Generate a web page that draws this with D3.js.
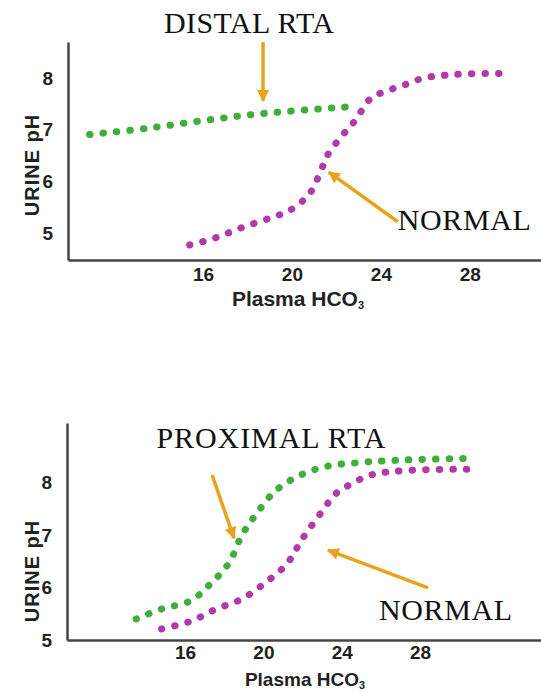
<!DOCTYPE html>
<html>
<head>
<meta charset="utf-8">
<script src="https://cdn.jsdelivr.net/npm/d3@7"></script>
<style>
  body { margin: 0; background: #fff; }
  svg { display: block; }
</style>
</head>
<body>
<div id="chart"></div>
<script>
// tick labels
var xTicks = [16, 20, 24, 28];
var yTicks = [5, 6, 7, 8];

// top chart: distal RTA vs normal
var distalHco3 = [10.9, 13.5, 16.2, 18.8, 22.4];
var distalPh   = [6.91, 7.03, 7.19, 7.32, 7.44];
var normalTopHco3 = [15.4, 16.5, 17.7, 19.0, 19.9, 20.8, 21.35, 21.6, 22.2, 22.75, 23.15, 23.55, 24.1, 25.0, 25.9, 27.0, 28.3, 29.8];
var normalTopPh   = [4.77, 4.90, 5.10, 5.29, 5.44, 5.77, 6.26, 6.51, 6.86, 7.13, 7.38, 7.61, 7.73, 7.86, 8.00, 8.06, 8.09, 8.09];

// bottom chart: proximal RTA vs normal
var proximalHco3 = [13.5, 14.8, 16.3, 17.3, 18.25, 18.9, 19.7, 20.65, 21.9, 23.3, 25.0, 26.8, 30.7];
var proximalPh   = [5.40, 5.59, 5.75, 6.07, 6.47, 6.99, 7.43, 7.85, 8.14, 8.31, 8.38, 8.42, 8.46];
var normalBotHco3 = [14.8, 16.3, 17.6, 18.9, 20.1, 21.2, 22.0, 23.1, 23.6, 24.2, 25.5, 27.5, 30.8];
var normalBotPh   = [5.21, 5.36, 5.59, 5.78, 6.09, 6.45, 6.93, 7.50, 7.75, 7.91, 8.14, 8.23, 8.25];

var green = '#3fae3a', pink = '#b13aa8', orange = '#e8a31c';

var svg = d3.select('#chart')
  .append('svg')
    .attr('width', 541)
    .attr('height', 692);

// arrow head
svg.append('defs').append('marker')
    .attr('id', 'head')
    .attr('markerUnits', 'userSpaceOnUse')
    .attr('viewBox', '0 0 10 10')
    .attr('refX', 9).attr('refY', 5)
    .attr('markerWidth', 13).attr('markerHeight', 12)
    .attr('orient', 'auto')
  .append('path')
    .attr('d', 'M0,0 L10,5 L0,10 Z')
    .attr('fill', orange);

function zip(xs, ys) {
  return xs.map(function(v, i) { return [v, ys[i]]; });
}

function drawPanel(opt) {
  var g = svg.append('g');
  var x = d3.scaleLinear().domain(opt.xDomain).range(opt.xRange);
  var y = d3.scaleLinear().domain(opt.yDomain).range(opt.yRange);

  // X axis
  g.append('g')
    .attr('transform', 'translate(0,' + opt.yRange[0] + ')')
    .call(d3.axisBottom(x).tickValues(xTicks).tickFormat(d3.format('d'))
      .tickSize(0).tickSizeOuter(0).tickPadding(opt.xPad));
  // Y axis
  g.append('g')
    .attr('transform', 'translate(' + opt.xRange[0] + ',0)')
    .call(d3.axisLeft(y).tickValues(yTicks).tickFormat(d3.format('d'))
      .tickSize(0).tickSizeOuter(0).tickPadding(15));
  g.selectAll('.domain').attr('stroke', '#454545').attr('stroke-width', 2.5);
  g.selectAll('.tick text')
    .attr('fill', '#222')
    .style('font-family', '"Liberation Sans", Arial, sans-serif')
    .style('font-weight', 'bold')
    .style('font-size', '19px');

  // axis labels
  g.append('text')
    .attr('transform', 'translate(' + opt.yLabelX + ',' + opt.yLabelY + ')rotate(-90)')
    .attr('text-anchor', 'middle')
    .attr('dy', '0.35em')
    .style('font-family', '"Liberation Sans", Arial, sans-serif')
    .style('font-weight', 'bold')
    .style('font-size', '20px')
    .style('letter-spacing', '1px')
    .attr('fill', '#222')
    .text('URINE pH');
  var xl = g.append('text')
    .attr('x', opt.xLabelX)
    .attr('y', opt.xLabelY)
    .attr('text-anchor', 'middle')
    .style('font-family', '"Liberation Sans", Arial, sans-serif')
    .style('font-weight', 'bold')
    .style('font-size', opt.xLabelSize + 'px')
    .attr('fill', '#222');
  xl.append('tspan').text('Plasma HCO');
  xl.append('tspan').attr('dy', 3).style('font-size', '11px').text('3');

  // dotted curves
  var line = d3.line()
    .x(function(d) { return x(d[0]); })
    .y(function(d) { return y(d[1]); })
    .curve(d3.curveCatmullRom.alpha(0.5));
  opt.series.forEach(function(s) {
    g.append('path')
      .datum(s.data)
      .attr('d', line)
      .attr('fill', 'none')
      .attr('stroke', s.color)
      .attr('stroke-width', 7)
      .attr('stroke-linecap', 'round')
      .attr('stroke-dasharray', '0.5,13');
  });

  // annotations
  opt.notes.forEach(function(n) {
    g.append('line')
      .attr('x1', x(n.from[0])).attr('y1', y(n.from[1]))
      .attr('x2', x(n.to[0])).attr('y2', y(n.to[1]))
      .attr('stroke', orange)
      .attr('stroke-width', 3.5)
      .attr('marker-end', 'url(#head)');
  });
  opt.labels.forEach(function(l) {
    var t = g.append('text')
      .attr('x', x(l.at[0]))
      .attr('y', y(l.at[1]))
      .attr('text-anchor', l.anchor)
      .style('font-family', '"Liberation Serif", "Times New Roman", serif')
      .style('font-size', '30px')
      .attr('fill', '#111')
      .text(l.text);
    if (l.len) t.attr('textLength', l.len).attr('lengthAdjust', 'spacing');
  });
}

drawPanel({
  xDomain: [9.93, 31.2], xRange: [68, 541],
  yDomain: [4.48, 8.70], yRange: [260, 42],
  xPad: 8,
  yLabelX: 32, yLabelY: 165,
  xLabelX: 298, xLabelY: 306, xLabelSize: 21,
  series: [
    {color: green, data: zip(distalHco3, distalPh)},
    {color: pink, data: zip(normalTopHco3, normalTopPh)}
  ],
  notes: [
    {from: [18.7, 8.70], to: [18.7, 7.56]},
    {from: [24.76, 5.22], to: [21.66, 6.18]}
  ],
  labels: [
    {text: 'DISTAL RTA', at: [18.07, 8.87], anchor: 'middle', len: 170},
    {text: 'NORMAL', at: [24.76, 5.06], anchor: 'start', len: 133}
  ]
});

drawPanel({
  xDomain: [9.97, 34.18], xRange: [67, 541],
  yDomain: [5.0, 9.13], yRange: [640, 423],
  xPad: 6,
  yLabelX: 32, yLabelY: 571,
  xLabelX: 305, xLabelY: 686, xLabelSize: 19,
  series: [
    {color: green, data: zip(proximalHco3, proximalPh)},
    {color: pink, data: zip(normalBotHco3, normalBotPh)}
  ],
  notes: [
    {from: [17.38, 8.14], to: [18.5, 6.94]},
    {from: [28.41, 5.99], to: [23.3, 6.71]}
  ],
  labels: [
    {text: 'PROXIMAL RTA', at: [20.39, 8.66], anchor: 'middle', len: 229},
    {text: 'NORMAL', at: [25.91, 5.38], anchor: 'start', len: 133}
  ]
});
</script>
</body>
</html>
